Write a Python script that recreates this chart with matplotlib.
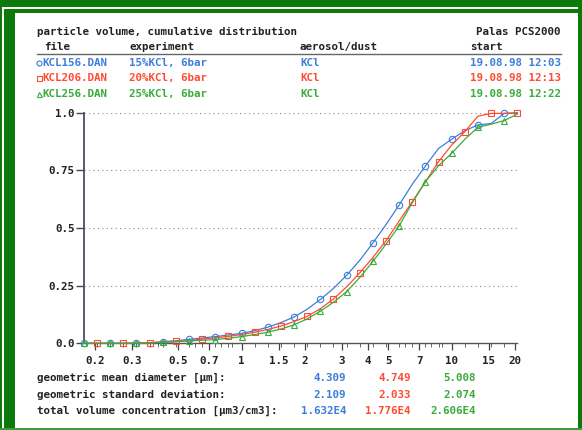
import numpy as np
import matplotlib.pyplot as plt
from matplotlib.patches import Rectangle
from matplotlib.ticker import FixedLocator, NullFormatter

# size channels (um), 16 per decade
diam = [0.178, 0.205, 0.237, 0.274, 0.316, 0.365, 0.422, 0.487, 0.562, 0.649,
        0.750, 0.866, 1.0, 1.155, 1.334, 1.540, 1.778, 2.054, 2.371, 2.738,
        3.162, 3.652, 4.217, 4.870, 5.623, 6.494, 7.499, 8.660, 10.0, 11.55,
        13.34, 15.40, 17.78, 20.54]

# cumulative volume distribution
kcl156 = [0, 0, 0, 0, 0, 0.002, 0.007, 0.011, 0.017, 0.023, 0.029, 0.036,
          0.043, 0.055, 0.070, 0.090, 0.114, 0.148, 0.190, 0.238, 0.295, 0.360,
          0.435, 0.515, 0.600, 0.690, 0.769, 0.845, 0.885, 0.922, 0.947, 0.953,
          0.997, 1.0]
kcl206 = [0, 0, 0, 0, 0.001, 0.003, 0.005, 0.008, 0.012, 0.018, 0.024, 0.030,
          0.038, 0.048, 0.060, 0.075, 0.094, 0.117, 0.150, 0.192, 0.245, 0.305,
          0.372, 0.445, 0.530, 0.614, 0.700, 0.788, 0.860, 0.918, 0.985, 0.997,
          0.997, 0.997]
kcl256 = [0, 0, 0, 0, 0, 0.001, 0.004, 0.007, 0.010, 0.013, 0.016, 0.022,
          0.029, 0.038, 0.048, 0.062, 0.080, 0.106, 0.139, 0.178, 0.224, 0.285,
          0.355, 0.430, 0.509, 0.610, 0.701, 0.770, 0.824, 0.885, 0.937, 0.950,
          0.966, 0.994]

files = ["KCL156.DAN", "KCL206.DAN", "KCL256.DAN"]
experiments = ["15%KCl, 6bar", "20%KCl, 6bar", "25%KCl, 6bar"]
dusts = ["KCl", "KCl", "KCl"]
starts = ["19.08.98 12:03", "19.08.98 12:13", "19.08.98 12:22"]
mean_diam = ["4.309", "4.749", "5.008"]
std_dev = ["2.109", "2.033", "2.074"]
total_vol = ["1.632E4", "1.776E4", "2.606E4"]

x_ticks = [0.2, 0.3, 0.5, 0.7, 1, 1.5, 2, 3, 4, 5, 7, 10, 15, 20]
x_labels = ["0.2", "0.3", "0.5", "0.7", "1", "1.5", "2", "3", "4", "5", "7", "10", "15", "20"]
y_ticks = [0.0, 0.25, 0.5, 0.75, 1.0]
y_labels = ["0.0", "0.25", "0.5", "0.75", "1.0"]

colors = ["#3d7ddb", "#ff4b33", "#3aac3a"]
markers = ["o", "s", "^"]
dark = "#222222"
frame_green = "#0b7a0b"

W, H = 582, 430
mono = "DejaVu Sans Mono"
fs = 7.8

fig = plt.figure(figsize=(W / 100, H / 100), dpi=100)


def box(x0, y0, x1, y1, color=frame_green):
    fig.add_artist(Rectangle((x0 / W, 1 - y1 / H), (x1 - x0) / W, (y1 - y0) / H,
                             transform=fig.transFigure, color=color, lw=0))


def txt(x, y, s, color=dark, ha="left", size=fs, family=mono):
    fig.text(x / W, 1 - y / H, s, color=color, ha=ha, va="center",
             family=family, weight="bold", fontsize=size)


# green frame
box(0, 0, W, 7)
box(0, 0, 2, H)
box(4, 9, 15, H)
box(4, 9, 578, 13)
box(578, 0, W, H)
box(0, 428, W, H, color="#3c9a3c")

# plot area
ax = fig.add_axes([84 / W, 1 - 343.3 / H, (517.4 - 84) / W, (343.3 - 112.7) / H])
ax.set_xscale("log")
ax.set_xlim(diam[0], diam[-1])
ax.set_ylim(0, 1.0)

series = [kcl156, kcl206, kcl256]
starts_mark = [0, 1, 0]
for vals, c, m, s0 in zip(series, colors, markers, starts_mark):
    ax.plot(diam, vals, color=c, lw=0.9, marker=m, markersize=4.6,
            markerfacecolor="none", markeredgecolor=c, markeredgewidth=0.8,
            markevery=(s0, 2), clip_on=False, zorder=3)

for yv in y_ticks[1:]:
    ax.axhline(yv, color="#888888", lw=0.8, ls=(0, (1, 3)), zorder=1)

for sp in ["top", "right"]:
    ax.spines[sp].set_visible(False)
ax.spines["left"].set_color("#4b4b6e")
ax.spines["left"].set_linewidth(1.3)
ax.spines["bottom"].set_color("#555555")
ax.spines["bottom"].set_linewidth(1.0)

ax.set_yticks(y_ticks)
ax.set_yticklabels(y_labels, family=mono, weight="bold", fontsize=fs, color=dark)
ax.tick_params(axis="y", length=5.8, width=1.0, color="#444444", pad=1)

minor = sorted(set([d for d in diam if d not in x_ticks] +
                   [m * 10.0 ** e for e in (-1, 0, 1) for m in range(1, 10)]))
minor = [v for v in minor if diam[0] < v < diam[-1] and v not in x_ticks]
ax.xaxis.set_major_locator(FixedLocator(x_ticks))
ax.xaxis.set_minor_locator(FixedLocator(minor))
ax.xaxis.set_minor_formatter(NullFormatter())
ax.set_xticklabels(x_labels, family=mono, weight="bold", fontsize=fs, color=dark)
ax.tick_params(axis="x", which="major", length=5, width=0.9, color="#444444", pad=4)
ax.tick_params(axis="x", which="minor", length=3, width=0.7, color="#666666")

# header
txt(37, 32, "particle volume, cumulative distribution")
txt(561, 32, "Palas PCS2000", ha="right")
txt(44, 47, "file")
txt(129, 47, "experiment")
txt(300, 47, "aerosol/dust")
txt(470, 47, "start")
fig.add_artist(plt.Line2D([37 / W, 561 / W], [1 - 54 / H, 1 - 54 / H],
                          transform=fig.transFigure, color="#666666", lw=1.0))
fig_ax = fig.add_axes([0, 0, 1, 1], facecolor="none")
fig_ax.set_xlim(0, W)
fig_ax.set_ylim(H, 0)
fig_ax.axis("off")
for i in range(3):
    y = 63 + 15.3 * i
    # small file symbols drawn as markers
    fig_ax.plot([38.5], [y], marker=markers[i], markersize=3.6, markerfacecolor="none",
                markeredgecolor=colors[i], markeredgewidth=0.8)
    txt(42, y, files[i], color=colors[i])
    txt(129, y, experiments[i], color=colors[i])
    txt(300, y, dusts[i], color=colors[i])
    txt(561, y, starts[i], color=colors[i], ha="right")

# statistics
rows = [("geometric mean diameter [µm]:", mean_diam),
        ("geometric standard deviation:", std_dev),
        ("total volume concentration [µm3/cm3]:", total_vol)]
for j, (label, vals) in enumerate(rows):
    y = 378 + 16.5 * j
    txt(37, y, label)
    for i in range(3):
        txt(346 + 65 * i, y, vals[i], color=colors[i], ha="right")

fig.savefig("out.png", dpi=100)
